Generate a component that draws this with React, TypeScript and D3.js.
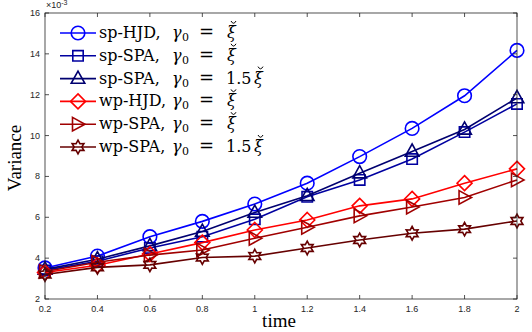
import React from "react";
import * as d3 from "d3";

const times = [0.2, 0.4, 0.6, 0.8, 1.0, 1.2, 1.4, 1.6, 1.8, 2.0];

const spHJD = [3.52, 4.1, 5.05, 5.8, 6.65, 7.67, 8.97, 10.35, 11.95, 14.17];
const spSPA = [3.4, 3.85, 4.5, 5.05, 5.9, 7.0, 7.83, 8.85, 10.17, 11.55];
const spSPA15 = [3.45, 3.95, 4.6, 5.3, 6.23, 7.05, 8.16, 9.22, 10.3, 11.84];
const wpHJD = [3.3, 3.65, 4.2, 4.76, 5.38, 5.87, 6.56, 6.9, 7.67, 8.37];
const wpSPA = [3.35, 3.8, 4.15, 4.4, 4.97, 5.51, 6.07, 6.5, 6.97, 7.83];
const wpSPA15 = [3.2, 3.55, 3.67, 4.03, 4.1, 4.5, 4.89, 5.22, 5.42, 5.82];

const seriesNames = ["sp-HJD", "sp-SPA", "sp-SPA", "wp-HJD", "wp-SPA", "wp-SPA"];
const gammaLabels = ["", "", "1.5", "", "", "1.5"];
const seriesColors = ["#0000ff", "#0000a0", "#000070", "#ff0000", "#a00000", "#660000"];
const seriesMarkers = ["circle", "square", "triangle", "diamond", "right", "hexagram"];
const seriesValues = [spHJD, spSPA, spSPA15, wpHJD, wpSPA, wpSPA15];

const xTicks = [0.2, 0.4, 0.6, 0.8, 1, 1.2, 1.4, 1.6, 1.8, 2];
const yTicks = [2, 4, 6, 8, 10, 12, 14, 16];

const W = 532, H = 332;
const margin = { left: 45, right: 15, top: 13, bottom: 33 };

function markerPath(kind: string): string {
  switch (kind) {
    case "circle":
      return d3.symbol(d3.symbolCircle, 145)()!;
    case "square":
      return "M-5.2,-5.2H5.2V5.2H-5.2Z";
    case "triangle":
      return "M0,-7.5L6.8,4.7H-6.8Z";
    case "diamond":
      return "M0,-7.5L7.5,0L0,7.5L-7.5,0Z";
    case "right":
      return "M-5.5,-6.8L7,0L-5.5,6.8Z";
    default: {
      // six-pointed star
      const pts: string[] = [];
      for (let i = 0; i < 12; i++) {
        const r = i % 2 === 0 ? 6.8 : 3.8;
        const a = -Math.PI / 2 + (i * Math.PI) / 6;
        pts.push(`${(r * Math.cos(a)).toFixed(2)},${(r * Math.sin(a)).toFixed(2)}`);
      }
      return "M" + pts.join("L") + "Z";
    }
  }
}

const App = () => {
  const x = d3.scaleLinear().domain([0.2, 2]).range([margin.left, W - margin.right]);
  const y = d3.scaleLinear().domain([2, 16]).range([H - margin.bottom, margin.top]);
  const line = d3.line<number>().x((_, i) => x(times[i])).y(d => y(d));

  const x0 = x(0.2), x1 = x(2), y0 = y(2), y1 = y(16);
  const tickFont = "Liberation Sans, Arial, sans-serif";
  const serif = "DejaVu Serif, serif";
  const axisColor = "#262626";

  return (
    <svg width={W} height={H} style={{ position: "absolute", left: 0, top: 0, background: "#fff" }}>
      {/* series */}
      {seriesValues.map((vals, si) => (
        <g key={si}>
          <path d={line(vals)!} fill="none" stroke={seriesColors[si]} strokeWidth={1.6} />
          {vals.map((v, i) => (
            <path
              key={i}
              d={markerPath(seriesMarkers[si])}
              transform={`translate(${x(times[i])},${y(v)})`}
              fill="none"
              stroke={seriesColors[si]}
              strokeWidth={1.6}
            />
          ))}
        </g>
      ))}

      {/* axes box */}
      <rect x={x0} y={y1} width={x1 - x0} height={y0 - y1} fill="none" stroke={axisColor} strokeWidth={0.8} />
      {xTicks.map(t => (
        <g key={t}>
          <line x1={x(t)} x2={x(t)} y1={y0} y2={y0 - 4} stroke={axisColor} strokeWidth={0.8} />
          <line x1={x(t)} x2={x(t)} y1={y1} y2={y1 + 4} stroke={axisColor} strokeWidth={0.8} />
          <text x={x(t)} y={y0 + 13} textAnchor="middle" fontSize={9} fontFamily={tickFont} fill={axisColor}>
            {t}
          </text>
        </g>
      ))}
      {yTicks.map(t => (
        <g key={t}>
          <line x1={x0} x2={x0 + 4} y1={y(t)} y2={y(t)} stroke={axisColor} strokeWidth={0.8} />
          <line x1={x1} x2={x1 - 4} y1={y(t)} y2={y(t)} stroke={axisColor} strokeWidth={0.8} />
          <text x={x0 - 5} y={y(t) + 3} textAnchor="end" fontSize={9} fontFamily={tickFont} fill={axisColor}>
            {t}
          </text>
        </g>
      ))}
      <text x={x0 + 1} y={8} fontSize={9} fontFamily={tickFont} fill={axisColor}>
        ×10<tspan dy={-3} fontSize={7}>-3</tspan>
      </text>

      {/* axis titles */}
      <text x={W / 2 + 13} y={327} textAnchor="middle" fontFamily="Liberation Serif, serif" style={{ fontSize: 19 }}>
        time
      </text>
      <text
        transform={`translate(21,${(y0 + y1) / 2 + 2}) rotate(-90)`}
        textAnchor="middle"
        fontFamily="Liberation Serif, serif"
        style={{ fontSize: 19 }}
      >
        Variance
      </text>

      {/* legend */}
      {seriesNames.map((name, si) => {
        const ly = 33 + si * 22.8;
        const base = ly + 5;
        const xiX = 227 + (gammaLabels[si] ? 27 : 0);
        return (
          <g key={si} fontFamily={serif} fontSize={16} fill="#000">
            <line x1={60} x2={96} y1={ly} y2={ly} stroke={seriesColors[si]} strokeWidth={1.6} />
            <path d={markerPath(seriesMarkers[si])} transform={`translate(78,${ly})`} fill="none" stroke={seriesColors[si]} strokeWidth={1.6} />
            <text x={99} y={base}>{name},</text>
            <text x={172} y={base} fontStyle="italic">γ</text>
            <text x={182} y={base + 3} fontSize={11}>0</text>
            <text x={199} y={base} style={{ fontSize: 18 }}>=</text>
            {gammaLabels[si] ? <text x={226} y={base}>{gammaLabels[si]}</text> : null}
            <text x={xiX} y={base} fontStyle="italic">ξ</text>
            <path
              d={`M${xiX + 4},${base - 17}Q${xiX + 6.5},${base - 12.5} ${xiX + 9},${base - 17}`}
              fill="none"
              stroke="#000"
              strokeWidth={1}
            />
          </g>
        );
      })}
    </svg>
  );
};

export default App;
